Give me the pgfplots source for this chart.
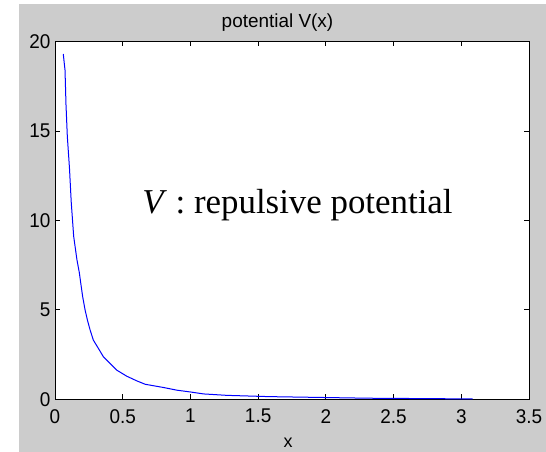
\documentclass[border=0pt]{standalone}
\usepackage{fontspec}
\setmainfont{Liberation Sans}
\newfontfamily\timesfont{Liberation Serif}
\usepackage{pgfplots}
\pgfplotsset{compat=1.18}
\definecolor{figgray}{RGB}{204,204,204}
\begin{document}
\begin{tikzpicture}[x=1bp,y=1bp]
\fill[white] (0,0) rectangle (546,452);
\fill[figgray] (19,0) rectangle (546,448);
\begin{axis}[
  at={(55bp,52.7bp)}, anchor=south west,
  scale only axis, width=474bp, height=357.8bp,
  xmin=0, xmax=3.5, ymin=0, ymax=20,
  xtick={0,0.5,...,3.5}, ytick={0,5,10,15,20},
  xticklabels={0,0.5,1,1.5,2,2.5,3,3.5},
  tick align=inside, major tick length=5bp,
  axis background/.style={fill=white},
  axis line style={black, line width=0.8bp},
  every tick/.style={black, line width=0.8bp},
  tick label style={font=\fontsize{19}{21}\selectfont, yscale=1.05},
  /pgf/number format/assume math mode=true,
  xticklabel style={yshift=-6bp},
  yticklabel style={xshift=-1bp},
  clip=false,
]
\addplot[blue, line width=1bp] coordinates {
(0.061,19.3) (0.074,18.4) (0.081,16.5) (0.091,14.7) (0.107,12.9) (0.120,11.0)
(0.138,9.1) (0.150,8.45) (0.162,7.8) (0.180,7.06) (0.190,6.5) (0.204,5.75)
(0.222,5.0) (0.239,4.44) (0.259,3.88) (0.283,3.31) (0.320,2.85) (0.357,2.38)
(0.407,2.0) (0.456,1.63) (0.530,1.29) (0.604,1.03) (0.666,0.84) (0.801,0.66)
(0.900,0.51) (0.999,0.41) (1.097,0.30) (1.270,0.22) (1.577,0.15) (2.317,0.06)
(3.084,0.02)};
\node[anchor=base west, inner sep=0pt, font=\timesfont\fontsize{35}{40}\selectfont]
  at (axis cs:0.643,10.41) {\textit{V} : repulsive potential};
\end{axis}
\node[anchor=base, inner sep=0pt, font=\fontsize{19}{21}\selectfont] at (277.5,424.3) {potential V(x)};
\node[anchor=base, inner sep=0pt, font=\fontsize{18}{20}\selectfont] at (288,4) {x};
\end{tikzpicture}
\end{document}
